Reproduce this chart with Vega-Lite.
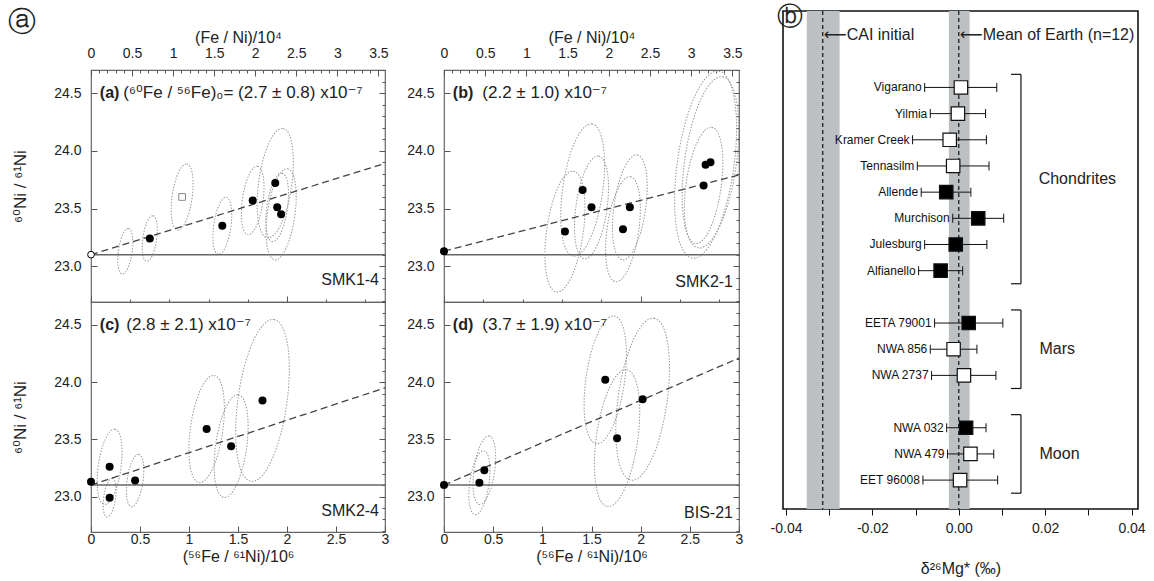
{
  "$schema": "https://vega.github.io/schema/vega-lite/v6.json",
  "background": "white",
  "padding": {"left": 8, "top": 3, "right": 2, "bottom": 0},
  "config": {
    "font": "Liberation Sans, DejaVu Sans",
    "view": {"stroke": "#666", "strokeWidth": 1.2},
    "axis": {"labelFont": "Liberation Sans, DejaVu Sans", "titleFont": "Liberation Sans, DejaVu Sans", "labelFontSize": 14, "titleFontSize": 16, "titleFontWeight": "normal", "labelColor": "#222", "titleColor": "#222", "tickColor": "#555", "domain": false, "grid": false, "labelFlush": false},
    "text": {"font": "Liberation Sans, DejaVu Sans", "color": "#222"},
    "title": {"font": "DejaVu Sans", "fontWeight": "normal", "color": "#222"}
  },
  "datasets": {
    "iso": [
      {"panel": "a", "x": 0, "y": 23.1, "ey": 0, "kind": "open_circle"},
      {"panel": "a", "x": 0.35, "y": 23.13, "ey": 0.2, "kind": "none"},
      {"panel": "a", "x": 0.6, "y": 23.24, "ey": 0.2, "kind": "filled"},
      {"panel": "a", "x": 0.93, "y": 23.6, "ey": 0.29, "kind": "open_square"},
      {"panel": "a", "x": 1.34, "y": 23.35, "ey": 0.25, "kind": "filled"},
      {"panel": "a", "x": 1.65, "y": 23.57, "ey": 0.3, "kind": "filled"},
      {"panel": "a", "x": 1.88, "y": 23.72, "ey": 0.48, "kind": "filled"},
      {"panel": "a", "x": 1.9, "y": 23.51, "ey": 0.3, "kind": "filled"},
      {"panel": "a", "x": 1.94, "y": 23.45, "ey": 0.4, "kind": "filled"},
      {"panel": "b", "x": 0, "y": 23.13, "ey": 0, "kind": "filled"},
      {"panel": "b", "x": 1.23, "y": 23.3, "ey": 0.53, "kind": "filled"},
      {"panel": "b", "x": 1.41, "y": 23.66, "ey": 0.58, "kind": "filled"},
      {"panel": "b", "x": 1.5, "y": 23.51, "ey": 0.45, "kind": "filled"},
      {"panel": "b", "x": 1.82, "y": 23.32, "ey": 0.46, "kind": "filled"},
      {"panel": "b", "x": 1.89, "y": 23.51, "ey": 0.46, "kind": "filled"},
      {"panel": "b", "x": 2.64, "y": 23.7, "ey": 0.51, "kind": "filled"},
      {"panel": "b", "x": 2.66, "y": 23.88, "ey": 0.82, "kind": "filled"},
      {"panel": "b", "x": 2.71, "y": 23.9, "ey": 0.75, "kind": "filled"},
      {"panel": "c", "x": 0, "y": 23.13, "ey": 0, "kind": "filled"},
      {"panel": "c", "x": 0.19, "y": 23.26, "ey": 0.33, "kind": "filled"},
      {"panel": "c", "x": 0.19, "y": 22.99, "ey": 0.17, "kind": "filled"},
      {"panel": "c", "x": 0.45, "y": 23.14, "ey": 0.23, "kind": "filled"},
      {"panel": "c", "x": 1.18, "y": 23.59, "ey": 0.47, "kind": "filled"},
      {"panel": "c", "x": 1.43, "y": 23.44, "ey": 0.45, "kind": "filled"},
      {"panel": "c", "x": 1.75, "y": 23.84, "ey": 0.71, "kind": "filled"},
      {"panel": "d", "x": 0, "y": 23.1, "ey": 0, "kind": "filled"},
      {"panel": "d", "x": 0.36, "y": 23.12, "ey": 0.28, "kind": "filled"},
      {"panel": "d", "x": 0.41, "y": 23.23, "ey": 0.3, "kind": "filled"},
      {"panel": "d", "x": 1.64, "y": 24.02, "ey": 0.56, "kind": "filled"},
      {"panel": "d", "x": 1.76, "y": 23.51, "ey": 0.6, "kind": "filled"},
      {"panel": "d", "x": 2.02, "y": 23.85, "ey": 0.71, "kind": "filled"}
    ],
    "fits": [
      {"panel": "a", "x": 0, "y": 23.1}, {"panel": "a", "x": 3, "y": 23.89},
      {"panel": "b", "x": 0, "y": 23.13}, {"panel": "b", "x": 3, "y": 23.79},
      {"panel": "c", "x": 0, "y": 23.1}, {"panel": "c", "x": 3, "y": 23.95},
      {"panel": "d", "x": 0, "y": 23.1}, {"panel": "d", "x": 3, "y": 24.21}
    ],
    "annot": [
      {"panel": "a", "tag": "(a)", "formula": "(⁶⁰Fe / ⁵⁶Fe)₀= (2.7 ± 0.8) x10⁻⁷", "sample": "SMK1-4"},
      {"panel": "b", "tag": "(b)", "formula": "(2.2 ± 1.0) x10⁻⁷", "sample": "SMK2-1"},
      {"panel": "c", "tag": "(c)", "formula": "(2.8 ± 2.1) x10⁻⁷", "sample": "SMK2-4"},
      {"panel": "d", "tag": "(d)", "formula": "(3.7 ± 1.9) x10⁻⁷", "sample": "BIS-21"}
    ],
    "mg": [
      {"name": "Vigarano", "v": 0.0005, "lo": -0.0079, "hi": 0.0088, "kind": "open"},
      {"name": "Yilmia", "v": -0.0002, "lo": -0.0066, "hi": 0.0062, "kind": "open"},
      {"name": "Kramer Creek", "v": -0.0021, "lo": -0.0107, "hi": 0.0064, "kind": "open"},
      {"name": "Tennasilm", "v": -0.0013, "lo": -0.0096, "hi": 0.007, "kind": "open"},
      {"name": "Allende", "v": -0.0029, "lo": -0.0087, "hi": 0.0028, "kind": "filled"},
      {"name": "Murchison", "v": 0.0045, "lo": -0.0014, "hi": 0.0104, "kind": "filled"},
      {"name": "Julesburg", "v": -0.0007, "lo": -0.0079, "hi": 0.0065, "kind": "filled"},
      {"name": "Alfianello", "v": -0.0042, "lo": -0.0093, "hi": 0.0009, "kind": "filled"},
      {"name": "EETA 79001", "v": 0.0023, "lo": -0.0056, "hi": 0.0102, "kind": "filled"},
      {"name": "NWA 856", "v": -0.0012, "lo": -0.0066, "hi": 0.0042, "kind": "open"},
      {"name": "NWA 2737", "v": 0.0012, "lo": -0.0063, "hi": 0.0086, "kind": "open"},
      {"name": "NWA 032", "v": 0.0017, "lo": -0.0028, "hi": 0.0063, "kind": "filled"},
      {"name": "NWA 479", "v": 0.0027, "lo": -0.0026, "hi": 0.0081, "kind": "open"},
      {"name": "EET 96008", "v": 0.0003, "lo": -0.0083, "hi": 0.009, "kind": "open"}
    ],
    "bands": [
      {"label": "⟵CAI initial", "lo": -0.0352, "hi": -0.0276, "mid": -0.0315},
      {"label": "⟵Mean of Earth (n=12)", "lo": -0.0023, "hi": 0.0025, "mid": 0}
    ],
    "groups": [
      {"group": "Chondrites", "first": "Vigarano", "last": "Alfianello", "mid": "Tennasilm"},
      {"group": "Mars", "first": "EETA 79001", "last": "NWA 2737", "mid": "NWA 856"},
      {"group": "Moon", "first": "NWA 032", "last": "EET 96008", "mid": "NWA 479"}
    ]
  },
  "spacing": 25,
  "hconcat": [
    {
      "spacing": 0,
      "bounds": "flush",
      "vconcat": [
        {
          "width": 10, "height": 59,
          "view": {"stroke": null},
          "title": {"text": "ⓐ", "anchor": "start", "frame": "group", "baseline": "middle", "fontSize": 28, "offset": -40, "dx": -83},
          "data": {"values": []},
          "mark": {"type": "point", "opacity": 0}
        },
        {
          "columns": 2,
          "spacing": {"row": 0, "column": 59},
          "bounds": "flush",
          "concat": [
            {
              "width": 294, "height": 232,
              "resolve": {"scale": {"x": "independent"}, "axis": {"y": "independent"}},
              "layer": [
                {
                  "layer": [
                    {"data": {"name": "iso"}, "transform": [{"filter": "datum.panel == 'a' && datum.ey > 0"}],
                     "mark": {"type": "point", "shape": "M0,-1C0.166,-1 0.3,-0.552 0.3,0C0.3,0.552 0.166,1 0,1C-0.166,1 -0.3,0.552 -0.3,0C-0.3,-0.552 -0.166,-1 0,-1Z", "filled": false, "stroke": "#999", "strokeWidth": 1, "strokeDash": [1.5, 1.5], "angle": 8, "opacity": 1, "clip": true},
                     "encoding": {
                       "x": {"field": "x", "type": "quantitative", "scale": {"domain": [0, 3], "nice": false, "zero": false},
                         "axis": {"orient": "bottom", "labels": false, "title": null, "labelOverlap": false, "values": [0,0.1,0.2,0.3,0.4,0.5,0.6,0.7,0.8,0.9,1,1.1,1.2,1.3,1.4,1.5,1.6,1.7,1.8,1.9,2,2.1,2.2,2.3,2.4,2.5,2.6,2.7,2.8,2.9,3],
                           "tickSize": {"condition": {"test": "abs(datum.value*2 - round(datum.value*2)) < 0.001", "value": -6}, "value": -3}}},
                       "y": {"field": "y", "type": "quantitative", "scale": {"domain": [22.69, 24.7], "nice": false, "zero": false},
                         "axis": {"title": "⁶⁰Ni / ⁶¹Ni", "titleFontSize": 17, "titlePadding": 24, "labelPadding": 16, "format": ".1f", "labelOverlap": false,
                           "values": [23.0, 23.5, 24.0, 24.5],
                           "tickSize": {"condition": {"test": "abs(datum.value*2 - round(datum.value*2)) < 0.001", "value": -6}, "value": -3}}},
                       "size": {"field": "ey", "type": "quantitative", "scale": {"type": "pow", "exponent": 2, "domain": [0, 1], "range": [0, 53000]}, "legend": null}}},
                    {"data": {"values": [{}]}, "mark": {"type": "rule", "color": "#666", "strokeWidth": 1.5},
                     "encoding": {"x": {"datum": 0, "type": "quantitative", "axis": {"labelOverlap": false}}, "x2": {"datum": 3}, "y": {"datum": 23.1, "type": "quantitative", "axis": {"labelOverlap": false}}}},
                    {"data": {"name": "fits"}, "transform": [{"filter": "datum.panel == 'a'"}], "mark": {"type": "line", "color": "#444", "strokeDash": [7, 4], "strokeWidth": 1.3},
                     "encoding": {"x": {"field": "x", "type": "quantitative", "axis": {"labelOverlap": false}, "scale": {"domain": [0, 3], "nice": false, "zero": false}}, "y": {"field": "y", "type": "quantitative", "axis": {"labelOverlap": false}, "scale": {"domain": [22.69, 24.7], "nice": false, "zero": false}}}},
                    {"data": {"name": "iso"}, "transform": [{"filter": "datum.panel == 'a' && datum.kind == 'filled'"}], "mark": {"type": "circle", "size": 64, "color": "black", "opacity": 1},
                     "encoding": {"x": {"field": "x", "type": "quantitative", "axis": {"labelOverlap": false}, "scale": {"domain": [0, 3], "nice": false, "zero": false}}, "y": {"field": "y", "type": "quantitative", "axis": {"labelOverlap": false}, "scale": {"domain": [22.69, 24.7], "nice": false, "zero": false}}}},
                    {"data": {"name": "iso"}, "transform": [{"filter": "datum.panel == 'a' && datum.kind == 'open_circle'"}], "mark": {"type": "point", "shape": "circle", "size": 45, "filled": true, "fill": "white", "stroke": "black", "strokeWidth": 1, "opacity": 1},
                     "encoding": {"x": {"field": "x", "type": "quantitative", "axis": {"labelOverlap": false}, "scale": {"domain": [0, 3], "nice": false, "zero": false}}, "y": {"field": "y", "type": "quantitative", "axis": {"labelOverlap": false}, "scale": {"domain": [22.69, 24.7], "nice": false, "zero": false}}}},
                    {"data": {"name": "iso"}, "transform": [{"filter": "datum.panel == 'a' && datum.kind == 'open_square'"}], "mark": {"type": "point", "shape": "square", "size": 45, "filled": true, "fill": "white", "stroke": "#888", "strokeWidth": 1, "opacity": 1},
                     "encoding": {"x": {"field": "x", "type": "quantitative", "axis": {"labelOverlap": false}, "scale": {"domain": [0, 3], "nice": false, "zero": false}}, "y": {"field": "y", "type": "quantitative", "axis": {"labelOverlap": false}, "scale": {"domain": [22.69, 24.7], "nice": false, "zero": false}}}},
                    {"data": {"name": "annot"}, "transform": [{"filter": "datum.panel == 'a'"}], "mark": {"type": "text", "align": "left", "baseline": "middle", "fontSize": 16, "fontWeight": "bold"},
                     "encoding": {"x": {"datum": 0.09, "type": "quantitative", "axis": {"labelOverlap": false}}, "y": {"datum": 24.5, "type": "quantitative", "axis": {"labelOverlap": false}}, "text": {"field": "tag", "type": "nominal"}}},
                    {"data": {"name": "annot"}, "transform": [{"filter": "datum.panel == 'a'"}], "mark": {"type": "text", "align": "left", "baseline": "middle", "fontSize": 17},
                     "encoding": {"x": {"datum": 0.33, "type": "quantitative", "axis": {"labelOverlap": false}}, "y": {"datum": 24.5, "type": "quantitative", "axis": {"labelOverlap": false}}, "text": {"field": "formula", "type": "nominal"}}},
                    {"data": {"name": "annot"}, "transform": [{"filter": "datum.panel == 'a'"}], "mark": {"type": "text", "align": "right", "baseline": "middle", "fontSize": 16, "dx": -6},
                     "encoding": {"x": {"datum": 3, "type": "quantitative", "axis": {"labelOverlap": false}}, "y": {"datum": 22.88, "type": "quantitative", "axis": {"labelOverlap": false}}, "text": {"field": "sample", "type": "nominal"}}}
                  ]
                },
                {
                  "data": {"values": [{"v": 0}]},
                  "mark": {"type": "point", "opacity": 0},
                  "encoding": {
                    "x": {"field": "v", "type": "quantitative", "scale": {"domain": [0, 3.58], "nice": false, "zero": false},
                      "axis": {"orient": "top", "title": "(Fe / Ni)/10⁴", "titlePadding": -2, "labelPadding": 16, "format": "~g", "labelOverlap": false,
                        "values": [0,0.1,0.2,0.3,0.4,0.5,0.6,0.7,0.8,0.9,1,1.1,1.2,1.3,1.4,1.5,1.6,1.7,1.8,1.9,2,2.1,2.2,2.3,2.4,2.5,2.6,2.7,2.8,2.9,3,3.1,3.2,3.3,3.4,3.5],
                        "labelExpr": "abs(datum.value*2 - round(datum.value*2)) < 0.001 ? datum.label : ''",
                        "tickSize": {"condition": {"test": "abs(datum.value*2 - round(datum.value*2)) < 0.001", "value": -6}, "value": -3}}},
                    "y": {"datum": 23.1, "type": "quantitative", "scale": {"domain": [22.69, 24.7], "nice": false, "zero": false},
                      "axis": {"orient": "right", "labels": false, "title": null,
                        "values": [22.7,22.8,22.9,23.0,23.1,23.2,23.3,23.4,23.5,23.6,23.7,23.8,23.9,24.0,24.1,24.2,24.3,24.4,24.5,24.6,24.7],
                        "tickSize": {"condition": {"test": "abs(datum.value*2 - round(datum.value*2)) < 0.001", "value": -6}, "value": -3}}}
                  }
                }
              ]
            },
            {
              "width": 295, "height": 232,
              "resolve": {"scale": {"x": "independent"}, "axis": {"y": "independent"}},
              "layer": [
                {
                  "layer": [
                    {"data": {"name": "iso"}, "transform": [{"filter": "datum.panel == 'b' && datum.ey > 0"}],
                     "mark": {"type": "point", "shape": "M0,-1C0.166,-1 0.3,-0.552 0.3,0C0.3,0.552 0.166,1 0,1C-0.166,1 -0.3,0.552 -0.3,0C-0.3,-0.552 -0.166,-1 0,-1Z", "filled": false, "stroke": "#999", "strokeWidth": 1, "strokeDash": [1.5, 1.5], "angle": 8, "opacity": 1, "clip": true},
                     "encoding": {
                       "x": {"field": "x", "type": "quantitative", "scale": {"domain": [0, 3], "nice": false, "zero": false},
                         "axis": {"orient": "bottom", "labels": false, "title": null, "labelOverlap": false, "values": [0,0.1,0.2,0.3,0.4,0.5,0.6,0.7,0.8,0.9,1,1.1,1.2,1.3,1.4,1.5,1.6,1.7,1.8,1.9,2,2.1,2.2,2.3,2.4,2.5,2.6,2.7,2.8,2.9,3],
                           "tickSize": {"condition": {"test": "abs(datum.value*2 - round(datum.value*2)) < 0.001", "value": -6}, "value": -3}}},
                       "y": {"field": "y", "type": "quantitative", "scale": {"domain": [22.69, 24.7], "nice": false, "zero": false},
                         "axis": {"title": null, "labelPadding": 16, "format": ".1f", "labelOverlap": false,
                           "values": [23.0, 23.5, 24.0, 24.5],
                           "tickSize": {"condition": {"test": "abs(datum.value*2 - round(datum.value*2)) < 0.001", "value": -6}, "value": -3}}},
                       "size": {"field": "ey", "type": "quantitative", "scale": {"type": "pow", "exponent": 2, "domain": [0, 1], "range": [0, 53000]}, "legend": null}}},
                    {"data": {"values": [{}]}, "mark": {"type": "rule", "color": "#666", "strokeWidth": 1.5},
                     "encoding": {"x": {"datum": 0, "type": "quantitative", "axis": {"labelOverlap": false}}, "x2": {"datum": 3}, "y": {"datum": 23.1, "type": "quantitative", "axis": {"labelOverlap": false}}}},
                    {"data": {"name": "fits"}, "transform": [{"filter": "datum.panel == 'b'"}], "mark": {"type": "line", "color": "#444", "strokeDash": [7, 4], "strokeWidth": 1.3},
                     "encoding": {"x": {"field": "x", "type": "quantitative", "axis": {"labelOverlap": false}, "scale": {"domain": [0, 3], "nice": false, "zero": false}}, "y": {"field": "y", "type": "quantitative", "axis": {"labelOverlap": false}, "scale": {"domain": [22.69, 24.7], "nice": false, "zero": false}}}},
                    {"data": {"name": "iso"}, "transform": [{"filter": "datum.panel == 'b' && datum.kind == 'filled'"}], "mark": {"type": "circle", "size": 64, "color": "black", "opacity": 1},
                     "encoding": {"x": {"field": "x", "type": "quantitative", "axis": {"labelOverlap": false}, "scale": {"domain": [0, 3], "nice": false, "zero": false}}, "y": {"field": "y", "type": "quantitative", "axis": {"labelOverlap": false}, "scale": {"domain": [22.69, 24.7], "nice": false, "zero": false}}}},
                    {"data": {"name": "annot"}, "transform": [{"filter": "datum.panel == 'b'"}], "mark": {"type": "text", "align": "left", "baseline": "middle", "fontSize": 16, "fontWeight": "bold"},
                     "encoding": {"x": {"datum": 0.09, "type": "quantitative", "axis": {"labelOverlap": false}}, "y": {"datum": 24.5, "type": "quantitative", "axis": {"labelOverlap": false}}, "text": {"field": "tag", "type": "nominal"}}},
                    {"data": {"name": "annot"}, "transform": [{"filter": "datum.panel == 'b'"}], "mark": {"type": "text", "align": "left", "baseline": "middle", "fontSize": 17},
                     "encoding": {"x": {"datum": 0.39, "type": "quantitative", "axis": {"labelOverlap": false}}, "y": {"datum": 24.5, "type": "quantitative", "axis": {"labelOverlap": false}}, "text": {"field": "formula", "type": "nominal"}}},
                    {"data": {"name": "annot"}, "transform": [{"filter": "datum.panel == 'b'"}], "mark": {"type": "text", "align": "right", "baseline": "middle", "fontSize": 16, "dx": -6},
                     "encoding": {"x": {"datum": 3, "type": "quantitative", "axis": {"labelOverlap": false}}, "y": {"datum": 22.86, "type": "quantitative", "axis": {"labelOverlap": false}}, "text": {"field": "sample", "type": "nominal"}}}
                  ]
                },
                {
                  "data": {"values": [{"v": 0}]},
                  "mark": {"type": "point", "opacity": 0},
                  "encoding": {
                    "x": {"field": "v", "type": "quantitative", "scale": {"domain": [0, 3.58], "nice": false, "zero": false},
                      "axis": {"orient": "top", "title": "(Fe / Ni)/10⁴", "titlePadding": -2, "labelPadding": 16, "format": "~g", "labelOverlap": false,
                        "values": [0,0.1,0.2,0.3,0.4,0.5,0.6,0.7,0.8,0.9,1,1.1,1.2,1.3,1.4,1.5,1.6,1.7,1.8,1.9,2,2.1,2.2,2.3,2.4,2.5,2.6,2.7,2.8,2.9,3,3.1,3.2,3.3,3.4,3.5],
                        "labelExpr": "abs(datum.value*2 - round(datum.value*2)) < 0.001 ? datum.label : ''",
                        "tickSize": {"condition": {"test": "abs(datum.value*2 - round(datum.value*2)) < 0.001", "value": -6}, "value": -3}}},
                    "y": {"datum": 23.1, "type": "quantitative", "scale": {"domain": [22.69, 24.7], "nice": false, "zero": false},
                      "axis": {"orient": "right", "labels": false, "title": null,
                        "values": [22.7,22.8,22.9,23.0,23.1,23.2,23.3,23.4,23.5,23.6,23.7,23.8,23.9,24.0,24.1,24.2,24.3,24.4,24.5,24.6,24.7],
                        "tickSize": {"condition": {"test": "abs(datum.value*2 - round(datum.value*2)) < 0.001", "value": -6}, "value": -3}}}
                  }
                }
              ]
            },
            {
              "width": 294, "height": 230,
              "resolve": {"axis": {"y": "independent"}},
              "layer": [
                {
                  "layer": [
                    {"data": {"name": "iso"}, "transform": [{"filter": "datum.panel == 'c' && datum.ey > 0"}],
                     "mark": {"type": "point", "shape": "M0,-1C0.166,-1 0.3,-0.552 0.3,0C0.3,0.552 0.166,1 0,1C-0.166,1 -0.3,0.552 -0.3,0C-0.3,-0.552 -0.166,-1 0,-1Z", "filled": false, "stroke": "#999", "strokeWidth": 1, "strokeDash": [1.5, 1.5], "angle": 8, "opacity": 1, "clip": true},
                     "encoding": {
                       "x": {"field": "x", "type": "quantitative", "scale": {"domain": [0, 3], "nice": false, "zero": false},
                         "axis": {"orient": "bottom", "title": "(⁵⁶Fe / ⁶¹Ni)/10⁶", "titlePadding": 2, "labelPadding": 6, "format": "~g", "labelOverlap": false,
                           "values": [0, 0.5, 1, 1.5, 2, 2.5, 3],
                           "tickSize": {"condition": {"test": "abs(datum.value*2 - round(datum.value*2)) < 0.001", "value": -6}, "value": -3}}},
                       "y": {"field": "y", "type": "quantitative", "scale": {"domain": [22.69, 24.7], "nice": false, "zero": false},
                         "axis": {"title": "⁶⁰Ni / ⁶¹Ni", "titleFontSize": 17, "titlePadding": 24, "labelPadding": 16, "format": ".1f", "labelOverlap": false,
                           "values": [23.0, 23.5, 24.0, 24.5],
                           "tickSize": {"condition": {"test": "abs(datum.value*2 - round(datum.value*2)) < 0.001", "value": -6}, "value": -3}}},
                       "size": {"field": "ey", "type": "quantitative", "scale": {"type": "pow", "exponent": 2, "domain": [0, 1], "range": [0, 53000]}, "legend": null}}},
                    {"data": {"values": [{}]}, "mark": {"type": "rule", "color": "#666", "strokeWidth": 1.5},
                     "encoding": {"x": {"datum": 0, "type": "quantitative", "axis": {"labelOverlap": false}}, "x2": {"datum": 3}, "y": {"datum": 23.1, "type": "quantitative", "axis": {"labelOverlap": false}}}},
                    {"data": {"name": "fits"}, "transform": [{"filter": "datum.panel == 'c'"}], "mark": {"type": "line", "color": "#444", "strokeDash": [7, 4], "strokeWidth": 1.3},
                     "encoding": {"x": {"field": "x", "type": "quantitative", "axis": {"labelOverlap": false}, "scale": {"domain": [0, 3], "nice": false, "zero": false}}, "y": {"field": "y", "type": "quantitative", "axis": {"labelOverlap": false}, "scale": {"domain": [22.69, 24.7], "nice": false, "zero": false}}}},
                    {"data": {"name": "iso"}, "transform": [{"filter": "datum.panel == 'c' && datum.kind == 'filled'"}], "mark": {"type": "circle", "size": 64, "color": "black", "opacity": 1},
                     "encoding": {"x": {"field": "x", "type": "quantitative", "axis": {"labelOverlap": false}, "scale": {"domain": [0, 3], "nice": false, "zero": false}}, "y": {"field": "y", "type": "quantitative", "axis": {"labelOverlap": false}, "scale": {"domain": [22.69, 24.7], "nice": false, "zero": false}}}},
                    {"data": {"name": "annot"}, "transform": [{"filter": "datum.panel == 'c'"}], "mark": {"type": "text", "align": "left", "baseline": "middle", "fontSize": 16, "fontWeight": "bold"},
                     "encoding": {"x": {"datum": 0.09, "type": "quantitative", "axis": {"labelOverlap": false}}, "y": {"datum": 24.5, "type": "quantitative", "axis": {"labelOverlap": false}}, "text": {"field": "tag", "type": "nominal"}}},
                    {"data": {"name": "annot"}, "transform": [{"filter": "datum.panel == 'c'"}], "mark": {"type": "text", "align": "left", "baseline": "middle", "fontSize": 17},
                     "encoding": {"x": {"datum": 0.36, "type": "quantitative", "axis": {"labelOverlap": false}}, "y": {"datum": 24.5, "type": "quantitative", "axis": {"labelOverlap": false}}, "text": {"field": "formula", "type": "nominal"}}},
                    {"data": {"name": "annot"}, "transform": [{"filter": "datum.panel == 'c'"}], "mark": {"type": "text", "align": "right", "baseline": "middle", "fontSize": 16, "dx": -6},
                     "encoding": {"x": {"datum": 3, "type": "quantitative", "axis": {"labelOverlap": false}}, "y": {"datum": 22.87, "type": "quantitative", "axis": {"labelOverlap": false}}, "text": {"field": "sample", "type": "nominal"}}}
                  ]
                },
                {
                  "data": {"values": [{}]},
                  "mark": {"type": "point", "opacity": 0},
                  "encoding": {
                    "y": {"datum": 23.1, "type": "quantitative", "scale": {"domain": [22.69, 24.7], "nice": false, "zero": false},
                      "axis": {"orient": "right", "labels": false, "title": null,
                        "values": [22.7,22.8,22.9,23.0,23.1,23.2,23.3,23.4,23.5,23.6,23.7,23.8,23.9,24.0,24.1,24.2,24.3,24.4,24.5,24.6,24.7],
                        "tickSize": {"condition": {"test": "abs(datum.value*2 - round(datum.value*2)) < 0.001", "value": -6}, "value": -3}}}
                  }
                }
              ]
            },
            {
              "width": 295, "height": 230,
              "resolve": {"axis": {"y": "independent"}},
              "layer": [
                {
                  "layer": [
                    {"data": {"name": "iso"}, "transform": [{"filter": "datum.panel == 'd' && datum.ey > 0"}],
                     "mark": {"type": "point", "shape": "M0,-1C0.166,-1 0.3,-0.552 0.3,0C0.3,0.552 0.166,1 0,1C-0.166,1 -0.3,0.552 -0.3,0C-0.3,-0.552 -0.166,-1 0,-1Z", "filled": false, "stroke": "#999", "strokeWidth": 1, "strokeDash": [1.5, 1.5], "angle": 8, "opacity": 1, "clip": true},
                     "encoding": {
                       "x": {"field": "x", "type": "quantitative", "scale": {"domain": [0, 3], "nice": false, "zero": false},
                         "axis": {"orient": "bottom", "title": "(⁵⁶Fe / ⁶¹Ni)/10⁶", "titlePadding": 2, "labelPadding": 6, "format": "~g", "labelOverlap": false,
                           "values": [0, 0.5, 1, 1.5, 2, 2.5, 3],
                           "tickSize": {"condition": {"test": "abs(datum.value*2 - round(datum.value*2)) < 0.001", "value": -6}, "value": -3}}},
                       "y": {"field": "y", "type": "quantitative", "scale": {"domain": [22.69, 24.7], "nice": false, "zero": false},
                         "axis": {"title": null, "labelPadding": 16, "format": ".1f", "labelOverlap": false,
                           "values": [23.0, 23.5, 24.0, 24.5],
                           "tickSize": {"condition": {"test": "abs(datum.value*2 - round(datum.value*2)) < 0.001", "value": -6}, "value": -3}}},
                       "size": {"field": "ey", "type": "quantitative", "scale": {"type": "pow", "exponent": 2, "domain": [0, 1], "range": [0, 53000]}, "legend": null}}},
                    {"data": {"values": [{}]}, "mark": {"type": "rule", "color": "#666", "strokeWidth": 1.5},
                     "encoding": {"x": {"datum": 0, "type": "quantitative", "axis": {"labelOverlap": false}}, "x2": {"datum": 3}, "y": {"datum": 23.1, "type": "quantitative", "axis": {"labelOverlap": false}}}},
                    {"data": {"name": "fits"}, "transform": [{"filter": "datum.panel == 'd'"}], "mark": {"type": "line", "color": "#444", "strokeDash": [7, 4], "strokeWidth": 1.3},
                     "encoding": {"x": {"field": "x", "type": "quantitative", "axis": {"labelOverlap": false}, "scale": {"domain": [0, 3], "nice": false, "zero": false}}, "y": {"field": "y", "type": "quantitative", "axis": {"labelOverlap": false}, "scale": {"domain": [22.69, 24.7], "nice": false, "zero": false}}}},
                    {"data": {"name": "iso"}, "transform": [{"filter": "datum.panel == 'd' && datum.kind == 'filled'"}], "mark": {"type": "circle", "size": 64, "color": "black", "opacity": 1},
                     "encoding": {"x": {"field": "x", "type": "quantitative", "axis": {"labelOverlap": false}, "scale": {"domain": [0, 3], "nice": false, "zero": false}}, "y": {"field": "y", "type": "quantitative", "axis": {"labelOverlap": false}, "scale": {"domain": [22.69, 24.7], "nice": false, "zero": false}}}},
                    {"data": {"name": "annot"}, "transform": [{"filter": "datum.panel == 'd'"}], "mark": {"type": "text", "align": "left", "baseline": "middle", "fontSize": 16, "fontWeight": "bold"},
                     "encoding": {"x": {"datum": 0.09, "type": "quantitative", "axis": {"labelOverlap": false}}, "y": {"datum": 24.5, "type": "quantitative", "axis": {"labelOverlap": false}}, "text": {"field": "tag", "type": "nominal"}}},
                    {"data": {"name": "annot"}, "transform": [{"filter": "datum.panel == 'd'"}], "mark": {"type": "text", "align": "left", "baseline": "middle", "fontSize": 17},
                     "encoding": {"x": {"datum": 0.39, "type": "quantitative", "axis": {"labelOverlap": false}}, "y": {"datum": 24.5, "type": "quantitative", "axis": {"labelOverlap": false}}, "text": {"field": "formula", "type": "nominal"}}},
                    {"data": {"name": "annot"}, "transform": [{"filter": "datum.panel == 'd'"}], "mark": {"type": "text", "align": "right", "baseline": "middle", "fontSize": 16, "dx": -6},
                     "encoding": {"x": {"datum": 3, "type": "quantitative", "axis": {"labelOverlap": false}}, "y": {"datum": 22.86, "type": "quantitative", "axis": {"labelOverlap": false}}, "text": {"field": "sample", "type": "nominal"}}}
                  ]
                },
                {
                  "data": {"values": [{}]},
                  "mark": {"type": "point", "opacity": 0},
                  "encoding": {
                    "y": {"datum": 23.1, "type": "quantitative", "scale": {"domain": [22.69, 24.7], "nice": false, "zero": false},
                      "axis": {"orient": "right", "labels": false, "title": null,
                        "values": [22.7,22.8,22.9,23.0,23.1,23.2,23.3,23.4,23.5,23.6,23.7,23.8,23.9,24.0,24.1,24.2,24.3,24.4,24.5,24.6,24.7],
                        "tickSize": {"condition": {"test": "abs(datum.value*2 - round(datum.value*2)) < 0.001", "value": -6}, "value": -3}}}
                  }
                }
              ]
            }
          ]
        }
      ]
    },
    {
      "width": 355, "height": 498,
      "title": {"text": "ⓑ", "anchor": "start", "frame": "group", "baseline": "middle", "fontSize": 26, "offset": -33, "dx": -6},
      "view": {"stroke": "#111", "strokeWidth": 1.6},
      "layer": [
        {"data": {"name": "bands"}, "mark": {"type": "rect", "color": "#bcc0c3", "opacity": 1},
         "encoding": {"x": {"field": "lo", "type": "quantitative", "scale": {"domain": [-0.0407, 0.0415], "nice": false, "zero": false},
           "axis": {"title": "δ²⁶Mg* (‰)", "titlePadding": 25, "labelPadding": 6, "tickSize": 6, "tickColor": "#111", "format": ".2f", "labelOverlap": false,
             "values": [-0.04, -0.03, -0.02, -0.01, 0, 0.01, 0.02, 0.03, 0.04],
             "labelExpr": "abs(round(datum.value*100)) % 2 == 0 ? replace(datum.label, '−', '-') : ''"}},
           "x2": {"field": "hi"}}},
        {"data": {"name": "bands"}, "mark": {"type": "rule", "color": "#111", "strokeDash": [4, 3], "strokeWidth": 1.2},
         "encoding": {"x": {"field": "mid", "type": "quantitative", "scale": {"domain": [-0.0407, 0.0415], "nice": false, "zero": false}}}},
        {"data": {"name": "bands"}, "mark": {"type": "text", "align": "left", "baseline": "middle", "fontSize": 16, "dx": 1},
         "encoding": {"x": {"field": "mid", "type": "quantitative", "scale": {"domain": [-0.0407, 0.0415], "nice": false, "zero": false}},
           "y": {"datum": "hdr", "type": "nominal", "scale": {"type": "band", "domain": ["hdr", "sp0", "Vigarano", "Yilmia", "Kramer Creek", "Tennasilm", "Allende", "Murchison", "Julesburg", "Alfianello", "sp1", "EETA 79001", "NWA 856", "NWA 2737", "sp2", "NWA 032", "NWA 479", "EET 96008"], "paddingInner": 0, "paddingOuter": 0.512, "align": 0.41}, "axis": null},
           "text": {"field": "label"}}},
        {"data": {"name": "mg"}, "mark": {"type": "rule", "color": "#111", "strokeWidth": 1},
         "encoding": {"x": {"field": "lo", "type": "quantitative", "scale": {"domain": [-0.0407, 0.0415], "nice": false, "zero": false}},
           "x2": {"field": "hi"},
           "y": {"field": "name", "type": "nominal", "scale": {"type": "band", "domain": ["hdr", "sp0", "Vigarano", "Yilmia", "Kramer Creek", "Tennasilm", "Allende", "Murchison", "Julesburg", "Alfianello", "sp1", "EETA 79001", "NWA 856", "NWA 2737", "sp2", "NWA 032", "NWA 479", "EET 96008"], "paddingInner": 0, "paddingOuter": 0.512, "align": 0.41}, "axis": null}}},
        {"data": {"name": "mg"}, "mark": {"type": "tick", "color": "#111", "thickness": 1, "size": 9, "opacity": 1},
         "encoding": {"x": {"field": "lo", "type": "quantitative", "scale": {"domain": [-0.0407, 0.0415], "nice": false, "zero": false}},
           "y": {"field": "name", "type": "nominal", "scale": {"type": "band", "domain": ["hdr", "sp0", "Vigarano", "Yilmia", "Kramer Creek", "Tennasilm", "Allende", "Murchison", "Julesburg", "Alfianello", "sp1", "EETA 79001", "NWA 856", "NWA 2737", "sp2", "NWA 032", "NWA 479", "EET 96008"], "paddingInner": 0, "paddingOuter": 0.512, "align": 0.41}, "axis": null}}},
        {"data": {"name": "mg"}, "mark": {"type": "tick", "color": "#111", "thickness": 1, "size": 9, "opacity": 1},
         "encoding": {"x": {"field": "hi", "type": "quantitative", "scale": {"domain": [-0.0407, 0.0415], "nice": false, "zero": false}},
           "y": {"field": "name", "type": "nominal", "scale": {"type": "band", "domain": ["hdr", "sp0", "Vigarano", "Yilmia", "Kramer Creek", "Tennasilm", "Allende", "Murchison", "Julesburg", "Alfianello", "sp1", "EETA 79001", "NWA 856", "NWA 2737", "sp2", "NWA 032", "NWA 479", "EET 96008"], "paddingInner": 0, "paddingOuter": 0.512, "align": 0.41}, "axis": null}}},
        {"data": {"name": "mg"}, "mark": {"type": "point", "shape": "square", "size": 180, "filled": true, "stroke": "#111", "strokeWidth": 1.2, "opacity": 1},
         "encoding": {"x": {"field": "v", "type": "quantitative", "scale": {"domain": [-0.0407, 0.0415], "nice": false, "zero": false}},
           "y": {"field": "name", "type": "nominal", "scale": {"type": "band", "domain": ["hdr", "sp0", "Vigarano", "Yilmia", "Kramer Creek", "Tennasilm", "Allende", "Murchison", "Julesburg", "Alfianello", "sp1", "EETA 79001", "NWA 856", "NWA 2737", "sp2", "NWA 032", "NWA 479", "EET 96008"], "paddingInner": 0, "paddingOuter": 0.512, "align": 0.41}, "axis": null},
           "fill": {"field": "kind", "type": "nominal", "scale": {"domain": ["filled", "open"], "range": ["#000000", "#ffffff"]}, "legend": null}}},
        {"data": {"name": "mg"}, "mark": {"type": "text", "align": "right", "baseline": "middle", "fontSize": 12, "dx": -3, "color": "#111"},
         "encoding": {"x": {"field": "lo", "type": "quantitative", "scale": {"domain": [-0.0407, 0.0415], "nice": false, "zero": false}},
           "y": {"field": "name", "type": "nominal", "scale": {"type": "band", "domain": ["hdr", "sp0", "Vigarano", "Yilmia", "Kramer Creek", "Tennasilm", "Allende", "Murchison", "Julesburg", "Alfianello", "sp1", "EETA 79001", "NWA 856", "NWA 2737", "sp2", "NWA 032", "NWA 479", "EET 96008"], "paddingInner": 0, "paddingOuter": 0.512, "align": 0.41}, "axis": null},
           "text": {"field": "name"}}},
        {"data": {"name": "groups"}, "mark": {"type": "rule", "color": "#111", "strokeWidth": 1.2},
         "encoding": {"x": {"datum": 0.0121, "type": "quantitative"}, "x2": {"datum": 0.0144},
           "y": {"field": "first", "type": "nominal", "bandPosition": 0, "scale": {"type": "band", "domain": ["hdr", "sp0", "Vigarano", "Yilmia", "Kramer Creek", "Tennasilm", "Allende", "Murchison", "Julesburg", "Alfianello", "sp1", "EETA 79001", "NWA 856", "NWA 2737", "sp2", "NWA 032", "NWA 479", "EET 96008"], "paddingInner": 0, "paddingOuter": 0.512, "align": 0.41}, "axis": null}}},
        {"data": {"name": "groups"}, "mark": {"type": "rule", "color": "#111", "strokeWidth": 1.2},
         "encoding": {"x": {"datum": 0.0121, "type": "quantitative"}, "x2": {"datum": 0.0144},
           "y": {"field": "last", "type": "nominal", "bandPosition": 1, "scale": {"type": "band", "domain": ["hdr", "sp0", "Vigarano", "Yilmia", "Kramer Creek", "Tennasilm", "Allende", "Murchison", "Julesburg", "Alfianello", "sp1", "EETA 79001", "NWA 856", "NWA 2737", "sp2", "NWA 032", "NWA 479", "EET 96008"], "paddingInner": 0, "paddingOuter": 0.512, "align": 0.41}, "axis": null}}},
        {"data": {"name": "groups"}, "mark": {"type": "rule", "color": "#111", "strokeWidth": 1.2},
         "encoding": {"x": {"datum": 0.0144, "type": "quantitative"},
           "y": {"field": "first", "type": "nominal", "bandPosition": 0, "scale": {"type": "band", "domain": ["hdr", "sp0", "Vigarano", "Yilmia", "Kramer Creek", "Tennasilm", "Allende", "Murchison", "Julesburg", "Alfianello", "sp1", "EETA 79001", "NWA 856", "NWA 2737", "sp2", "NWA 032", "NWA 479", "EET 96008"], "paddingInner": 0, "paddingOuter": 0.512, "align": 0.41}, "axis": null},
           "y2": {"field": "last", "bandPosition": 1}}},
        {"data": {"name": "groups"}, "transform": [{"filter": "datum.group == 'Chondrites'"}], "mark": {"type": "text", "align": "left", "baseline": "middle", "fontSize": 16},
         "encoding": {"x": {"datum": 0.0185, "type": "quantitative"},
           "y": {"field": "mid", "type": "nominal", "bandPosition": 1, "scale": {"type": "band", "domain": ["hdr", "sp0", "Vigarano", "Yilmia", "Kramer Creek", "Tennasilm", "Allende", "Murchison", "Julesburg", "Alfianello", "sp1", "EETA 79001", "NWA 856", "NWA 2737", "sp2", "NWA 032", "NWA 479", "EET 96008"], "paddingInner": 0, "paddingOuter": 0.512, "align": 0.41}, "axis": null},
           "text": {"field": "group"}}},
        {"data": {"name": "groups"}, "transform": [{"filter": "datum.group != 'Chondrites'"}], "mark": {"type": "text", "align": "left", "baseline": "middle", "fontSize": 16},
         "encoding": {"x": {"datum": 0.0187, "type": "quantitative"},
           "y": {"field": "mid", "type": "nominal", "bandPosition": 0.5, "scale": {"type": "band", "domain": ["hdr", "sp0", "Vigarano", "Yilmia", "Kramer Creek", "Tennasilm", "Allende", "Murchison", "Julesburg", "Alfianello", "sp1", "EETA 79001", "NWA 856", "NWA 2737", "sp2", "NWA 032", "NWA 479", "EET 96008"], "paddingInner": 0, "paddingOuter": 0.512, "align": 0.41}, "axis": null},
           "text": {"field": "group"}}}
      ]
    }
  ]
}
